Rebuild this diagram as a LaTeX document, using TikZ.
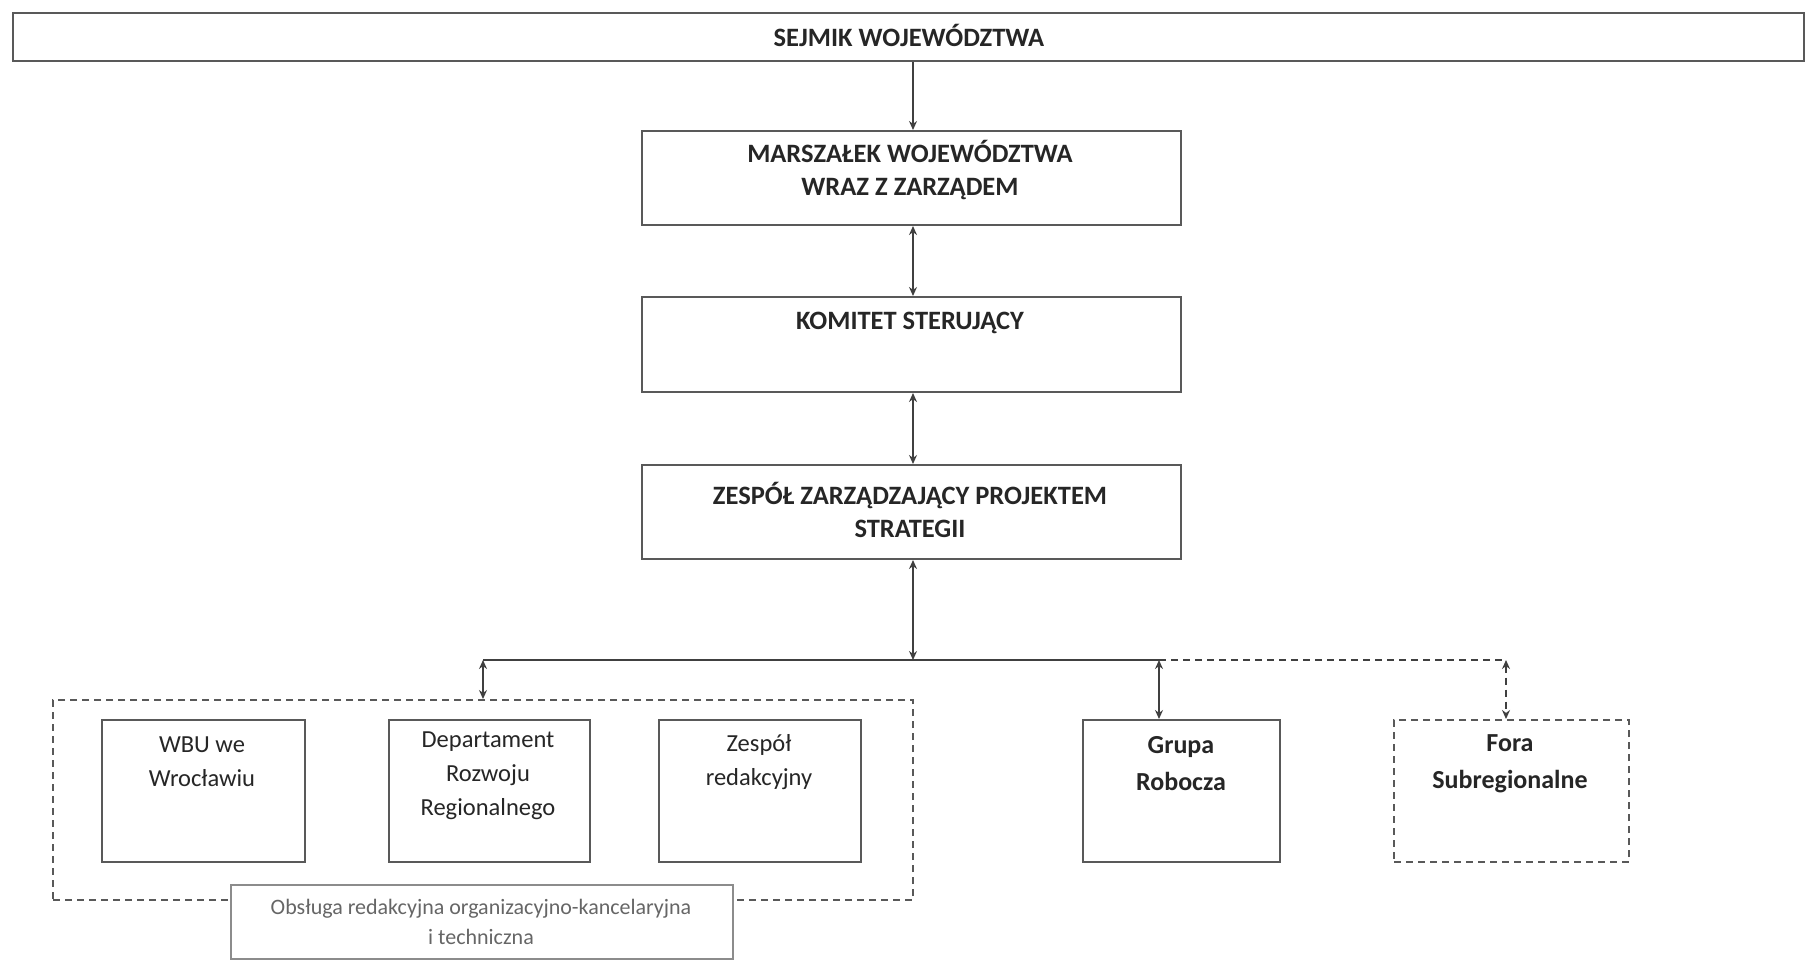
\documentclass[tikz,border=0pt]{standalone}
\usepackage{fontspec}
\setmainfont{Carlito}
\usetikzlibrary{arrows.meta,positioning}
\begin{document}
\begin{tikzpicture}[x=1pt,y=-1pt,
  box/.style={draw=black!65, line width=2pt, fill=white, inner sep=0pt, anchor=north west},
  dbox/.style={box, dashed, dash pattern=on 7pt off 5pt},
  big/.style={font=\bfseries\fontsize{26.5}{33}\selectfont, align=center, text=black!85, inner sep=0pt},
  small/.style={font=\fontsize{24.5}{34}\selectfont, align=center, text=black!85, inner sep=0pt},
  smallb/.style={font=\bfseries\fontsize{26}{37}\selectfont, align=center, text=black!85, inner sep=0pt},
  tiny/.style={font=\fontsize{22}{30}\selectfont, align=center, text=black!60, inner sep=0pt},
  conn/.style={draw=black!75, line width=2pt},
  arr/.style={conn, -{Stealth[length=9pt,width=8pt]}},
  darr/.style={conn, {Stealth[length=9pt,width=8pt]}-{Stealth[length=9pt,width=8pt]}},
  dline/.style={dash pattern=on 7pt off 5pt}]
\useasboundingbox (0,0) rectangle (1805,959);

% boxes
\node[box, minimum width=1791, minimum height=48] (sejmik) at (12,12) {};
\node[big] (sejmikt) at (909,35) {SEJMIK WOJEWÓDZTWA};

\node[box, minimum width=539, minimum height=94] (marsz) at (641,130) {};
\node[big] (marszt) at (910,170) {MARSZAŁEK WOJEWÓDZTWA\\WRAZ Z ZARZĄDEM};

\node[box, minimum width=539, minimum height=95] (kom) at (641,296) {};
\node[big] (komt) at (910,323) {KOMITET STERUJĄCY};

\node[box, minimum width=539, minimum height=94] (zesp) at (641,464) {};
\node[big] (zespt) at (910,510) {ZESPÓŁ ZARZĄDZAJĄCY PROJEKTEM\\STRATEGII};

\node[dbox, fill=none, minimum width=860, minimum height=200] (cont) at (52,699) {};

\node[box, minimum width=203, minimum height=142] (wbu) at (101,719) {};
\node[small] (wbut) at (202,762) {WBU we\\Wrocławiu};

\node[box, minimum width=201, minimum height=142] (dept) at (388,719) {};
\node[small] (deptt) at (488,776) {Departament\\Rozwoju\\Regionalnego};

\node[box, minimum width=202, minimum height=142] (red) at (658,719) {};
\node[small] (redt) at (759,762) {Zespół\\redakcyjny};

\node[box, draw=black!45, line width=1.5pt, minimum width=502, minimum height=74] (obs) at (230,884) {};
\node[tiny] (obst) at (481,922) {Obsługa redakcyjna organizacyjno-kancelaryjna\\i techniczna};

\node[box, minimum width=197, minimum height=142] (grupa) at (1082,719) {};
\node[smallb] (grupat) at (1181,764) {Grupa\\Robocza};

\node[dbox, minimum width=235, minimum height=142] (fora) at (1393,719) {};
\node[smallb] (forat) at (1510,764) {Fora\\Subregionalne};

% connectors
\coordinate (busM) at (913,660);
\coordinate (busL) at (cont.north |- busM);
\coordinate (busG) at (1159,660);
\coordinate (busF) at (1506,660);

\draw[arr] (sejmik.south -| busM) -- (marsz.north -| busM);
\draw[darr] (marsz.south -| busM) -- (kom.north -| busM);
\draw[darr] (kom.south -| busM) -- (zesp.north -| busM);
\draw[darr] (zesp.south -| busM) -- (busM);
\draw[conn] (busL) -- (busG);
\draw[conn, dline] (busG) -- (busF);
\draw[darr] (busL) -- (cont.north);
\draw[darr] (busG) -- (busG |- grupa.north);
\draw[darr, dline] (busF) -- (busF |- fora.north);
\end{tikzpicture}
\end{document}
